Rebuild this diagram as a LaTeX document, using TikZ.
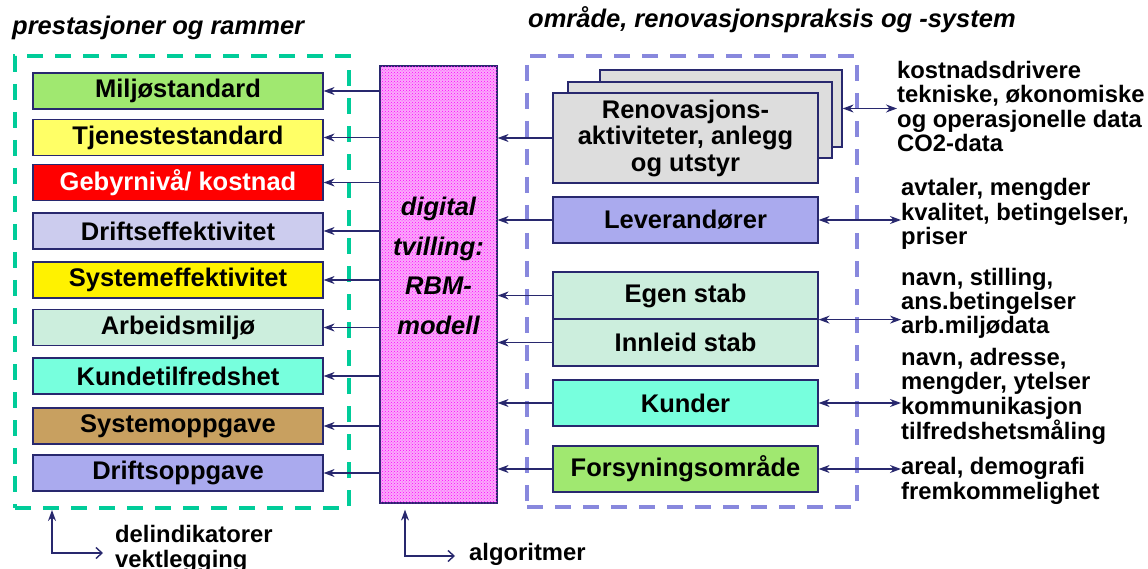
\documentclass[tikz,border=0pt]{standalone}
\usepackage{fontspec}
\setmainfont{Liberation Sans}
\usetikzlibrary{arrows.meta, calc, patterns, positioning}

\definecolor{navyline}{RGB}{40,40,110}
\definecolor{framegreen}{RGB}{0,204,153}
\definecolor{frameblue}{RGB}{136,136,221}
\definecolor{miljgreen}{RGB}{160,232,112}
\definecolor{lightyellow}{RGB}{255,255,102}
\definecolor{lightlav}{RGB}{204,204,238}
\definecolor{mintcol}{RGB}{204,238,221}
\definecolor{aquacol}{RGB}{119,255,221}
\definecolor{tancol}{RGB}{200,160,96}
\definecolor{midlav}{RGB}{170,170,238}
\definecolor{graycol}{RGB}{221,221,221}
\definecolor{pinkbg}{RGB}{250,170,250}

\tikzset{
    box/.style={draw=navyline, line width=1.2pt, minimum width=290pt, minimum height=36pt, inner sep=0pt, font=\fontsize{25.5}{26}\selectfont\bfseries},
    rbox/.style={box, minimum width=265pt, minimum height=46pt},
    info/.style={anchor=west, align=left, inner sep=0pt, font=\fontsize{23.8}{24.3}\selectfont\bfseries},
    arr/.style={draw=navyline, line width=1.4pt, -{Stealth[length=11pt,width=8pt]}},
    dbl/.style={arr, {Stealth[length=11pt,width=8pt]}-{Stealth[length=11pt,width=8pt]}},
    grpframe/.style={line width=4pt, dash pattern=on 16pt off 12pt, inner sep=0pt},
}

\begin{document}
\begin{tikzpicture}[x=1pt, y=-1pt]
    \useasboundingbox (0,0) rectangle (1148,569);

    % titles
    \node[anchor=base west, inner sep=0pt, font=\fontsize{25.5}{26}\selectfont\bfseries\itshape] (lefttitle) at (12,35) {prestasjoner og rammer};
    \node[anchor=base west, inner sep=0pt, font=\fontsize{25.5}{26}\selectfont\bfseries\itshape] (righttitle) at (528,28) {område, renovasjonspraksis og -system};

    % group frames
    \node[grpframe, draw=framegreen, minimum width=334pt, minimum height=452pt] (leftgrp) at (182,282) {};
    \node[grpframe, draw=frameblue, minimum width=330pt, minimum height=451pt] (rightgrp) at (692,281.5) {};

%% left: performance indicators
    \node[box, fill=miljgreen] (milj) at (178,91) {Miljøstandard};
    \node[box, fill=lightyellow] (tjen) at (178,137.5) {Tjenestestandard};
    \node[box, fill=red, text=white] (gebyr) at (178,182.5) {Gebyrnivå/ kostnad};
    \node[box, fill=lightlav] (drifteff) at (178,231) {Driftseffektivitet};
    \node[box, fill=yellow] (syseff) at (178,280) {Systemeffektivitet};
    \node[box, fill=mintcol] (arbm) at (178,327.5) {Arbeidsmiljø};
    \node[box, fill=aquacol] (kundetf) at (178,376) {Kundetilfredshet};
    \node[box, fill=tancol] (sysopp) at (178,426) {Systemoppgave};
    \node[box, fill=midlav] (driftopp) at (178,473) {Driftsoppgave};

%% middle: the model
    \node[draw=navyline, line width=1.2pt, fill=pinkbg, postaction={pattern=crosshatch dots, pattern color=magenta},
          minimum width=117pt, minimum height=437pt, inner sep=0pt] (twin) at (438.5,284.5) {};
    \node[align=center, inner sep=0pt, font=\fontsize{25.5}{39.7}\selectfont\bfseries\itshape] (twintext) at (438.5,266) {digital\\tvilling:\\RBM-\\modell};

%% right: area, practice and system
    \node[draw=navyline, line width=1.2pt, fill=graycol, minimum width=242pt, minimum height=77pt] (back3) at (721,108.5) {};
    \node[draw=navyline, line width=1.2pt, fill=graycol, minimum width=264pt, minimum height=76pt] (back2) at (700,120) {};
    \node[rbox, fill=graycol, minimum height=90pt, align=center, font=\fontsize{25.5}{26.5}\selectfont\bfseries] (renov) at (685.5,138) {Renovasjons-\\aktiviteter, anlegg\\og utstyr};
    \node[rbox, fill=midlav] (lev) at (685.5,220) {Leverandører};
    \node[rbox, fill=mintcol, minimum height=47pt] (egen) at (685.5,295.5) {Egen stab};
    \node[rbox, fill=mintcol, minimum height=47pt] (innleid) at (685.5,342.5) {Innleid stab};
    \node[rbox, fill=aquacol] (kunder) at (685.5,403) {Kunder};
    \node[rbox, fill=miljgreen] (forsyn) at (685.5,469) {Forsyningsområde};

    % data descriptions
    \node[info] (info1) at (897,106.5) {kostnadsdrivere\\tekniske, økonomiske\\og operasjonelle data\\CO2-data};
    \node[info] (info2) at (901,214) {avtaler, mengder\\kvalitet, betingelser,\\priser};
    \node[info] (info3) at (901,303.5) {navn, stilling,\\ans.betingelser\\arb.miljødata};
    \node[info] (info4) at (901,396.5) {navn, adresse,\\mengder, ytelser\\kommunikasjon\\tilfredshetsmåling};
    \node[info] (info5) at (901,481) {areal, demografi\\fremkommelighet};

%% arrows model -> indicators
\draw[arr] (twin.west |- milj.east) -- (milj.east);
\draw[arr] (twin.west |- tjen.east) -- (tjen.east);
\draw[arr] (twin.west |- gebyr.east) -- (gebyr.east);
\draw[arr] (twin.west |- drifteff.east) -- (drifteff.east);
\draw[arr] (twin.west |- syseff.east) -- (syseff.east);
\draw[arr] (twin.west |- arbm.east) -- (arbm.east);
\draw[arr] (twin.west |- kundetf.east) -- (kundetf.east);
\draw[arr] (twin.west |- sysopp.east) -- (sysopp.east);
\draw[arr] (twin.west |- driftopp.east) -- (driftopp.east);

%% arrows inputs -> model
\draw[arr] (renov.west) -- (twin.east |- renov.west);
\draw[arr] (lev.west) -- (twin.east |- lev.west);
\draw[arr] (egen.west) -- (twin.east |- egen.west);
\draw[arr] (innleid.west) -- (twin.east |- innleid.west);
\draw[arr] (kunder.west) -- (twin.east |- kunder.west);
\draw[arr] (forsyn.west) -- (twin.east |- forsyn.west);

%% data links
\draw[dbl] (back3.east) -- (back3.east -| info1.west);
\draw[dbl] (lev.east) -- (lev.east -| info2.west);
\draw[dbl] (egen.south east) -- (egen.south east -| info3.west);
\draw[dbl] (kunder.east) -- (kunder.east -| info4.west);
\draw[dbl] (forsyn.east) -- (forsyn.east -| info5.west);

%% bottom notes
\coordinate (delcorner) at (52,553);
\coordinate (delend) at (103,553);
\node[info] (deltext) at (115,549) {delindikatorer\\vektlegging};
\draw[navyline, line width=1.4pt, {Stealth[length=11pt,width=8pt]}-{Straight Barb[length=6pt,width=11pt]}]
    (delcorner |- leftgrp.south) -- (delcorner) -- (delend);

\coordinate (algcorner) at (405,556);
\coordinate (algend) at (455,556);
\node[info, anchor=base west] (algtext) at (469,560) {algoritmer};
\draw[navyline, line width=1.4pt, {Stealth[length=11pt,width=8pt]}-{Straight Barb[length=6pt,width=11pt]}, shorten <=6pt]
    (algcorner |- twin.south) -- (algcorner) -- (algend);

\end{tikzpicture}
\end{document}
